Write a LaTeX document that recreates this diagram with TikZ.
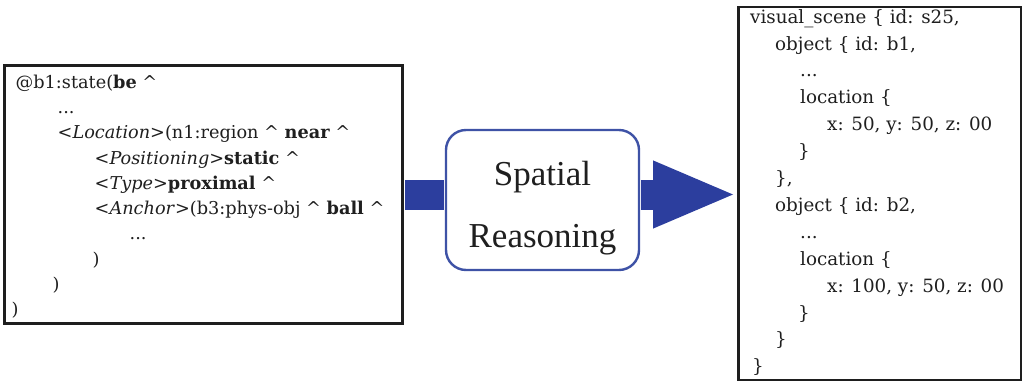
\documentclass[tikz,border=0pt]{standalone}
\usepackage{fontspec}
\setmainfont{DejaVu Serif}
\newfontfamily\timesfont{Liberation Serif}
\usetikzlibrary{arrows.meta}
\definecolor{bluefill}{RGB}{44,62,158}
\definecolor{blueline}{RGB}{62,82,166}
\definecolor{framecol}{RGB}{30,30,30}
\newcommand{\ind}[1]{\hspace*{#1pt}}
\newcommand{\crt}{\textasciicircum}
\begin{document}
\begin{tikzpicture}[x=1pt,y=-1pt,
  codebox/.style={draw=framecol, line width=2.8pt, fill=white, inner sep=0pt},
  codetext/.style={inner sep=0pt, align=left, anchor=north west, text=black!88},
  procbox/.style={draw=blueline, line width=2.4pt, rounded corners=20pt, fill=white, inner sep=0pt},
  flow/.style={bluefill, line width=30pt}
]
\useasboundingbox (0,0) rectangle (1028,385);
% boxes
\node[codebox, minimum width=398pt, minimum height=258pt] (src) at (203.5,194.5) {};
\node[procbox, minimum width=193pt, minimum height=140pt] (proc) at (542.5,200) {};
\node[codebox, minimum width=282.5pt, minimum height=372.5pt, line width=2.5pt] (dst) at (879.5,193.5) {};
% connectors
\draw[flow, shorten <=1.4pt, shorten >=1.2pt] (src.east) -- (src.east -| proc.west);
\draw[flow, shorten <=1.2pt, -{Triangle[length=84pt,width=61pt]}] (src.east -| proc.east) -- (src.east -| dst.west);
% left text
\node[codetext, font={\fontsize{17.7}{25.3}\selectfont}] (srctext) at (15.5,74.5) {%
@b1:state(\textbf{be} \crt\\
\ind{42}...\\
\ind{42}<\textit{Location}>(n1:region \crt{} \textbf{near} \crt\\
\ind{79}<\textit{Positioning}>\textbf{static} \crt\\
\ind{79}<\textit{Type}>\textbf{proximal} \crt\\
\ind{79}<\textit{Anchor}>(b3:phys-obj \crt{} \textbf{ball} \crt\\
\ind{114}...\\
\ind{77})\\
\ind{37})\\
\ind{-4})};
% process label
\node[inner sep=0pt, align=center, font={\timesfont\fontsize{35}{62}\selectfont}, text=black!88] (proclbl) at (542.5,208.5) {Spatial\\Reasoning};
% right text
\node[codetext, font={\fontsize{18.3}{26.9}\selectfont}] (dsttext) at (750,9) {%
visual\_scene \{ id: s25,\\
\ind{25}object \{ id: b1,\\
\ind{50}...\\
\ind{50}location \{\\
\ind{77}x: 50, y: 50, z: 00\\
\ind{48}\}\\
\ind{25}\},\\
\ind{25}object \{ id: b2,\\
\ind{50}...\\
\ind{50}location \{\\
\ind{77}x: 100, y: 50, z: 00\\
\ind{48}\}\\
\ind{25}\}\\
\ind{2}\}};
\end{tikzpicture}
\end{document}
